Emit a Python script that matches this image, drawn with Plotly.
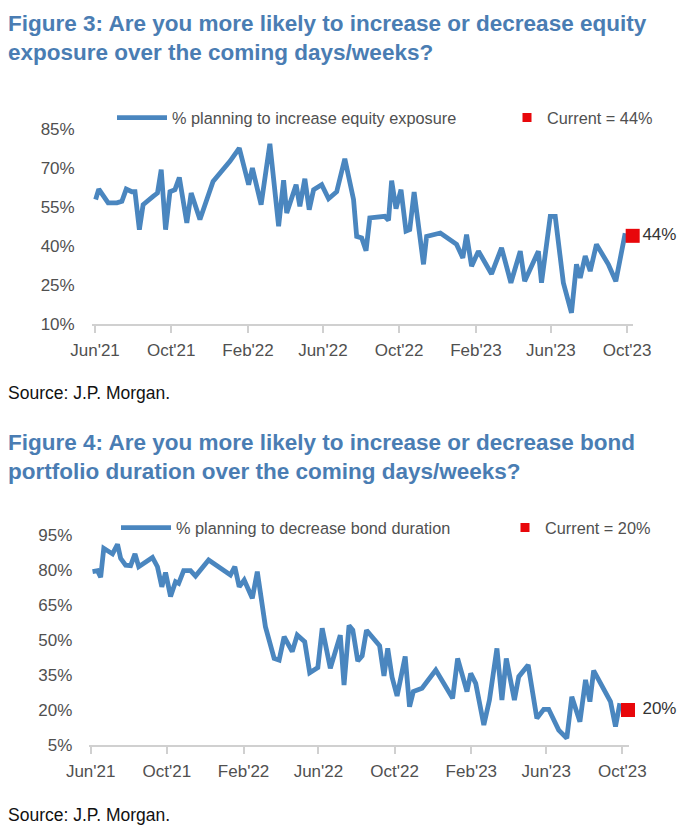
import plotly.graph_objects as go

# ---------------- data ----------------
eq_dates = ["2021-06-02","2021-06-07","2021-06-22","2021-07-06","2021-07-14","2021-07-21","2021-07-30",
            "2021-08-04","2021-08-11","2021-08-17","2021-09-02","2021-09-09","2021-09-15","2021-09-22",
            "2021-09-29","2021-10-07","2021-10-14","2021-10-26","2021-11-02","2021-11-16","2021-12-07",
            "2021-12-23","2022-01-03","2022-01-18","2022-02-02","2022-02-08","2022-02-22","2022-03-08",
            "2022-03-22","2022-03-30","2022-04-04","2022-04-19","2022-04-25","2022-05-03","2022-05-10",
            "2022-05-17","2022-05-30","2022-06-10","2022-06-23","2022-07-06","2022-07-20","2022-07-25",
            "2022-08-02","2022-08-09","2022-08-15","2022-09-08","2022-09-14","2022-09-19","2022-09-26",
            "2022-10-04","2022-10-12","2022-10-18","2022-10-25","2022-11-09","2022-11-14","2022-12-06",
            "2023-01-01","2023-01-11","2023-01-17","2023-01-25","2023-02-05","2023-02-26","2023-03-14",
            "2023-03-29","2023-04-13","2023-04-20","2023-05-12","2023-05-17","2023-05-31","2023-06-08",
            "2023-06-21","2023-07-04","2023-07-12","2023-07-18","2023-07-26","2023-08-03","2023-08-13",
            "2023-09-01","2023-09-13","2023-09-28"]
eq_values = [58, 62, 56.7, 56.7, 57.3, 62, 61, 61, 46.4, 56, 59.2, 60.5, 69.5, 46.4, 61, 61.8, 66.5,
             49, 60.5, 50.3, 65, 69.5, 72.7, 77.8, 63.7, 70.1, 56, 79.5, 47.7, 65.4, 52.8, 63.7, 55.4,
             66, 54.1, 61.8, 63.7, 58.3, 61, 73.7, 58, 43.8, 43.2, 38.3, 50.9, 51.5, 50, 65.3, 54.5,
             61.8, 45.8, 46.4, 60.9, 33, 43.8, 45.1, 40.7, 35.5, 44.5, 32.3, 38.1, 29.3, 39.4, 25.9,
             38.1, 26.5, 38.1, 25.9, 51.5, 51.5, 25.9, 14.3, 33, 27.8, 36.2, 30.4, 40.7, 33, 26.5, 45]

bd_dates = ["2021-06-04","2021-06-12","2021-06-17","2021-06-22","2021-07-06","2021-07-14","2021-07-19",
            "2021-07-27","2021-08-04","2021-08-11","2021-08-17","2021-09-08","2021-09-16","2021-09-23",
            "2021-09-29","2021-10-07","2021-10-15","2021-10-20","2021-10-28","2021-11-08","2021-11-16",
            "2021-12-07","2022-01-11","2022-01-18","2022-01-25","2022-02-02","2022-02-15","2022-02-23",
            "2022-03-08","2022-03-22","2022-03-30","2022-04-07","2022-04-20","2022-04-28","2022-05-10",
            "2022-05-18","2022-05-31","2022-06-07","2022-06-20","2022-07-06","2022-07-12","2022-07-20",
            "2022-07-26","2022-08-03","2022-08-10","2022-08-17","2022-09-07","2022-09-14","2022-09-20",
            "2022-09-27","2022-10-05","2022-10-18","2022-10-25","2022-10-31","2022-11-14","2022-12-06",
            "2023-01-02","2023-01-10","2023-01-25","2023-01-31","2023-02-08","2023-02-21","2023-03-02",
            "2023-03-14","2023-03-22","2023-03-29","2023-04-11","2023-04-18","2023-05-03","2023-05-17",
            "2023-05-28","2023-06-05","2023-06-21","2023-07-04","2023-07-12","2023-07-25","2023-08-03",
            "2023-08-10","2023-08-16","2023-09-12","2023-09-20","2023-09-27"]
bd_values = [79.3, 79.7, 76.9, 89.3, 86.9, 91, 85, 82.1, 81.9, 86.9, 81.4, 85.4, 81.4, 72.8, 78.9,
             68.6, 75, 74.3, 79.7, 79.7, 77.4, 84.3, 77.9, 81.4, 72.8, 75.7, 67.9, 79.3, 55.7, 42.1,
             41.4, 51.4, 45, 52.1, 49.3, 36, 38.2, 55, 37.9, 52.1, 30.7, 56.2, 54.3, 41, 43.2, 54.2,
             47.5, 34.6, 46.4, 34, 26, 42.9, 21.4, 27.9, 29.3, 37.1, 25, 42.1, 27.9, 35.7, 31.4, 13.6,
             24.3, 46.4, 24.3, 42.1, 24.3, 34.3, 39.3, 16.4, 20.3, 20.3, 11.4, 7.9, 25.7, 15, 32.9,
             23.6, 36.9, 23.6, 12.9, 22.9]

current_date = "2023-10-10"
eq_current = 44
bd_current = 20

tick_dates = ["2021-06-01","2021-10-01","2022-02-01","2022-06-01","2022-10-01","2023-02-01","2023-06-01","2023-10-01"]
tick_labels = ["Jun'21","Oct'21","Feb'22","Jun'22","Oct'22","Feb'23","Jun'23","Oct'23"]
eq_yticks = [10, 25, 40, 55, 70, 85]
bd_yticks = [5, 20, 35, 50, 65, 80, 95]

title3 = "Figure 3: Are you more likely to increase or decrease equity<br>exposure over the coming days/weeks?"
title4 = "Figure 4: Are you more likely to increase or decrease bond<br>portfolio duration over the coming days/weeks?"
source = "Source: J.P. Morgan."

# ---------------- styling ----------------
# the page body has an 8px margin, so the figure is laid out 8px in from the window edges
OFF = 8
WIN_W, WIN_H = 688, 833
W, H = WIN_W - OFF, WIN_H - OFF
FONT = "Liberation Sans, Arial, sans-serif"
BLUE = "#4a86bf"
RED = "#e8070b"
TITLE_BLUE = "#4a7db3"
GREY_TXT = "#505050"
AXIS_GREY = "#d0d0d0"


def px_x(p):  # page pixel -> paper fraction
    return (p - OFF) / W


def px_y(p):
    return 1 - (p - OFF) / H


fig = go.Figure()

# Figure 3 traces
fig.add_trace(go.Scatter(x=eq_dates, y=eq_values, mode="lines",
                         line=dict(color=BLUE, width=4.8),
                         name="% planning to increase equity exposure",
                         xaxis="x", yaxis="y", legend="legend"))
fig.add_trace(go.Scatter(x=[current_date], y=[eq_current], mode="markers+text",
                         marker=dict(color=RED, size=14, symbol="square"),
                         text=[f"{eq_current}%"], textposition="middle right",
                         textfont=dict(size=17, color="#333333", family=FONT),
                         cliponaxis=False, showlegend=False,
                         xaxis="x", yaxis="y"))
fig.add_trace(go.Scatter(x=[None], y=[None], mode="markers",
                         marker=dict(color=RED, size=9, symbol="square"),
                         name=f"Current = {eq_current}%",
                         xaxis="x", yaxis="y", legend="legend2"))

# Figure 4 traces
fig.add_trace(go.Scatter(x=bd_dates, y=bd_values, mode="lines",
                         line=dict(color=BLUE, width=4.8),
                         name="% planning to decrease bond duration",
                         xaxis="x2", yaxis="y2", legend="legend3"))
fig.add_trace(go.Scatter(x=[current_date], y=[bd_current], mode="markers+text",
                         marker=dict(color=RED, size=14, symbol="square"),
                         text=[f" {bd_current}%"], textposition="middle right",
                         textfont=dict(size=17, color="#333333", family=FONT),
                         cliponaxis=False, showlegend=False,
                         xaxis="x2", yaxis="y2"))
fig.add_trace(go.Scatter(x=[None], y=[None], mode="markers",
                         marker=dict(color=RED, size=9, symbol="square"),
                         name=f"Current = {bd_current}%",
                         xaxis="x2", yaxis="y2", legend="legend4"))

xcommon = dict(type="date", tickmode="array", tickvals=tick_dates, ticktext=tick_labels,
               showgrid=False, zeroline=False, showline=True, linecolor=AXIS_GREY, linewidth=1.5,
               ticks="outside", ticklen=7, tickcolor=AXIS_GREY, tickwidth=1.5, automargin=False,
               ticklabelstandoff=3,
               tickfont=dict(size=17, color=GREY_TXT, family=FONT), fixedrange=True)
ycommon = dict(showgrid=False, zeroline=False, showline=False, ticks="",
               tickmode="array", ticklabelstandoff=16, automargin=False,
               tickfont=dict(size=17, color=GREY_TXT, family=FONT), fixedrange=True)

legend_common = dict(orientation="h", xanchor="left", yanchor="middle",
                     font=dict(size=16.3, color=GREY_TXT, family=FONT),
                     bgcolor="rgba(0,0,0,0)", borderwidth=0)

fig.update_layout(
    width=W, height=H,
    margin=dict(l=0, r=0, t=0, b=0, pad=0, autoexpand=False),
    paper_bgcolor="white", plot_bgcolor="white",
    font=dict(family=FONT, color=GREY_TXT),
    xaxis=dict(xcommon, domain=[px_x(91.7), px_x(633.3)], anchor="y",
               range=["2021-05-26 16:00", "2023-10-11"]),
    yaxis=dict(ycommon, domain=[px_y(324), px_y(129.5)], anchor="x",
               range=[10, 85], tickvals=eq_yticks, ticktext=[f"{v}%" for v in eq_yticks]),
    xaxis2=dict(xcommon, domain=[px_x(89.3), px_x(628.6)], anchor="y2",
                range=["2021-05-29 19:00", "2023-10-11"]),
    yaxis2=dict(ycommon, domain=[px_y(745), px_y(535)], anchor="x2",
                range=[5, 95], tickvals=bd_yticks, ticktext=[f"{v}%" for v in bd_yticks]),
    legend=dict(legend_common, x=px_x(112), y=px_y(118), itemwidth=50),
    legend2=dict(legend_common, x=px_x(507), y=px_y(118)),
    legend3=dict(legend_common, x=px_x(116), y=px_y(528), itemwidth=50),
    legend4=dict(legend_common, x=px_x(505), y=px_y(528)),
    annotations=[
        dict(text=title3, x=px_x(6), y=px_y(9), xref="paper", yref="paper",
             xanchor="left", yanchor="top", align="left", showarrow=False,
             font=dict(size=22.5, color=TITLE_BLUE, family=FONT, weight="bold")),
        dict(text=source, x=px_x(6), y=px_y(393), xref="paper", yref="paper",
             xanchor="left", yanchor="middle", align="left", showarrow=False,
             font=dict(size=17.5, color="#111111", family=FONT)),
        dict(text=title4, x=px_x(6), y=px_y(428), xref="paper", yref="paper",
             xanchor="left", yanchor="top", align="left", showarrow=False,
             font=dict(size=22.5, color=TITLE_BLUE, family=FONT, weight="bold")),
        dict(text=source, x=px_x(6), y=px_y(815), xref="paper", yref="paper",
             xanchor="left", yanchor="middle", align="left", showarrow=False,
             font=dict(size=17.5, color="#111111", family=FONT)),
    ],
)

fig.write_html("out.html")
